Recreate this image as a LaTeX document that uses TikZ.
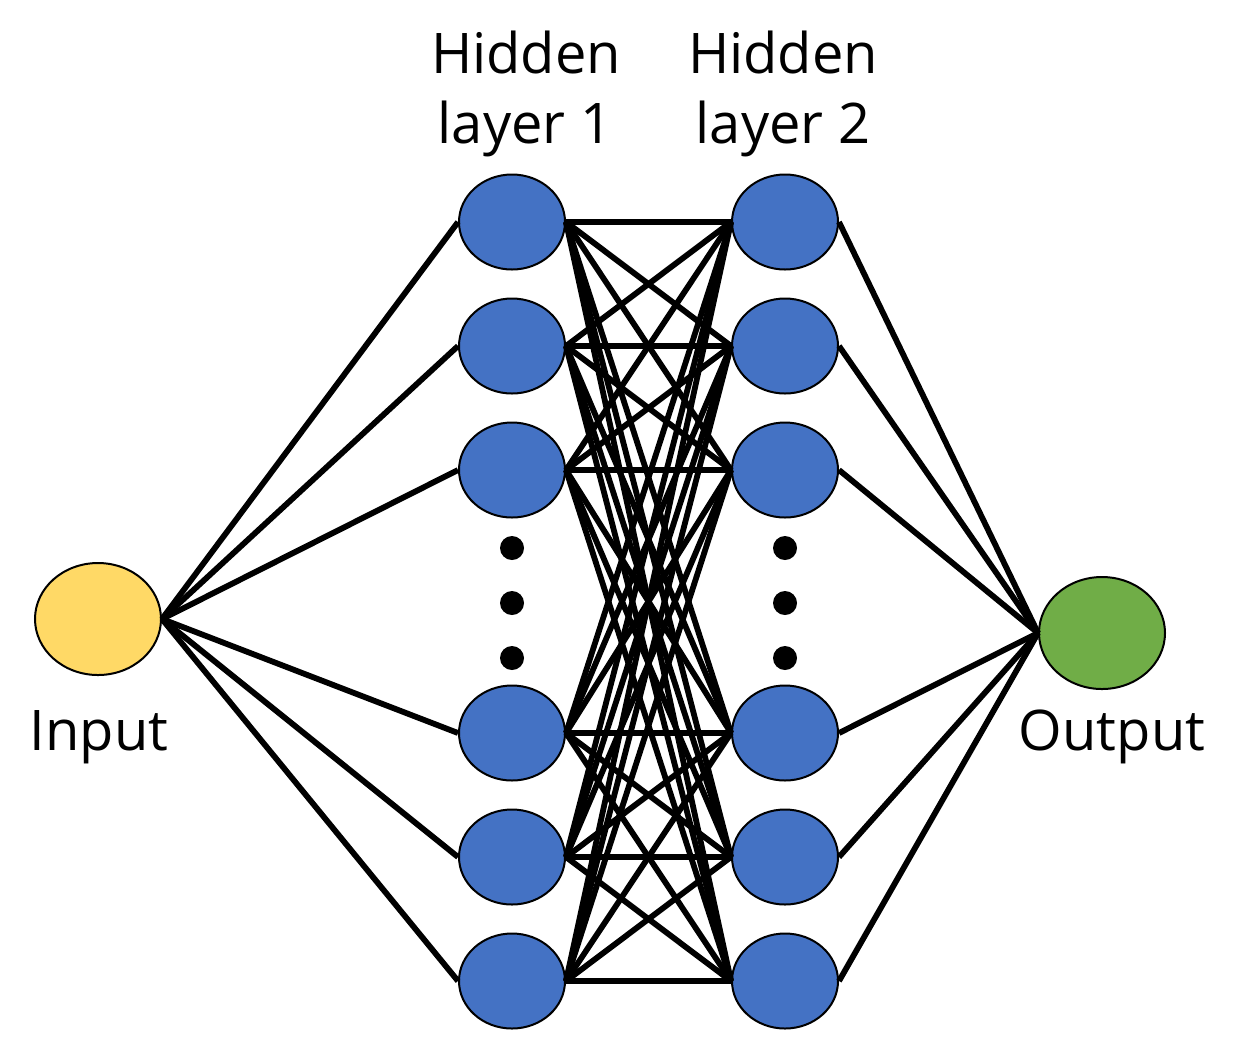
\documentclass[tikz,border=0pt]{standalone}
\usepackage{fontspec}
\setmainfont{Open Sans}
\usetikzlibrary{shapes.geometric}
\definecolor{hidblue}{HTML}{4472C4}
\definecolor{inyellow}{HTML}{FFD966}
\definecolor{outgreen}{HTML}{70AD47}
\begin{document}
\begin{tikzpicture}[
    x=0.5pt, y=-0.5pt,
    neuron/.style={ellipse, draw=black, line width=1pt, fill=hidblue, inner sep=0pt, minimum width=53pt, minimum height=47.5pt},
    ionode/.style={neuron, minimum width=63pt, minimum height=56pt},
    vdot/.style={circle, fill=black, inner sep=0pt, minimum size=12pt},
    wire/.style={line width=2.9pt},
    lbl/.style={anchor=base, font=\fontsize{28}{34}\selectfont},
]
    \useasboundingbox (0,0) rectangle (1241,1062);

    % Input and output neurons
    \node[ionode, fill=inyellow] (in)  at (98,619)  {};
    \node[ionode, fill=outgreen] (out) at (1102,633) {};

    % Hidden layers (three above and three below the dots)
    \foreach \i/\y in {1/222, 2/346, 3/470, 4/733, 5/857, 6/981}{
      \node[neuron] (ha\i) at (512,\y) {};
      \node[neuron] (hb\i) at (785,\y) {};
    }

    % Vertical ellipsis dots
    \foreach \k/\y in {1/548, 2/603, 3/658}{
      \node[vdot] (da\k) at (512,\y) {};
      \node[vdot] (db\k) at (785,\y) {};
    }

    % Connections
    \foreach \i in {1,...,6}{
      \draw[wire] (in.east) -- (ha\i.west);
      \draw[wire] (hb\i.east) -- (out.west);
      \foreach \j in {1,...,6}
        \draw[wire] (ha\i.east) -- (hb\j.west);
    }

    % Labels
    \node[lbl] (inlbl)  at (99,750)  {Input};
    \node[lbl] (outlbl) at (1112,750) {Output};
    \node[lbl] (hatop)  at (526,73)  {Hidden};
    \node[lbl] (habot)  at (525,143) {layer 1};
    \node[lbl] (hbtop)  at (783,73)  {Hidden};
    \node[lbl] (hbbot)  at (783,143) {layer 2};
\end{tikzpicture}
\end{document}
